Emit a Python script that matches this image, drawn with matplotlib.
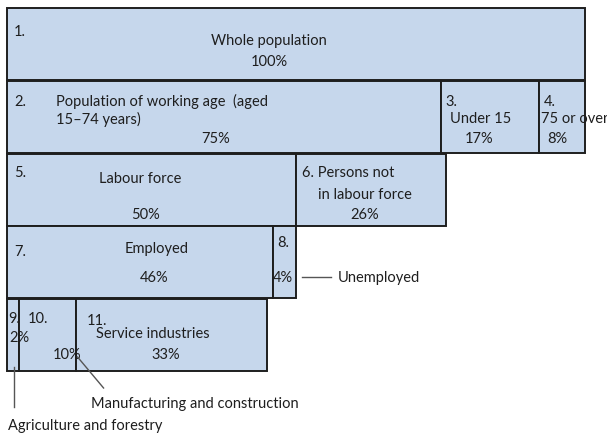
import matplotlib
matplotlib.use('Agg')
import matplotlib.pyplot as plt
from matplotlib.patches import Rectangle
import matplotlib.transforms as mtransforms

plt.rcParams['font.family'] = ['Lato', 'DejaVu Sans']

# ---- data ----
numbers = ['1.', '2.', '3.', '4.', '5.', '6.', '7.', '8.', '9.', '10.', '11.']
names = ['Whole population', 'Population of working age  (aged\n15–74 years)', 'Under 15',
         '75 or over', 'Labour force', 'Persons not', 'Employed',
         '', '', '', 'Service industries']
shares = [100, 75, 17, 8, 50, 26, 46, 4, 2, 10, 33]
levels = [0, 1, 1, 1, 2, 2, 3, 3, 4, 4, 4]
callouts = ['Unemployed', 'Agriculture and forestry', 'Manufacturing and construction']

FILL = '#c6d7ec'
EDGE = '#1e1e1e'
TXT = '#1e1e1e'

W, H = 607, 433
fig = plt.figure(figsize=(W / 100, H / 100), dpi=100)
ax = fig.add_axes([0, 0, 1, 1])
PX_PER_PCT = 5.78
ROW = 72.75
LEFT, TOP = 7, 8
ax.set_xlim(-LEFT / PX_PER_PCT, (W - LEFT) / PX_PER_PCT)
ax.set_ylim((H - TOP) / ROW, -TOP / ROW)
ax.axis('off')

# left edges stacked cumulatively within each level
lefts = []
running = {}
for s, lv in zip(shares, levels):
    x0 = running.get(lv, 0)
    lefts.append(x0)
    running[lv] = x0 + s

for x0, s, lv in zip(lefts, shares, levels):
    ax.add_patch(Rectangle((x0, lv), s, 72 / ROW, facecolor=FILL, edgecolor=EDGE, lw=1.4))


def off(dx, dy):
    return ax.transData + mtransforms.ScaledTranslation(dx / 100, -dy / 100, fig.dpi_scale_trans)


FS = 10.5
DY = 1.2


def put(i, dx, dy, text, ha='left', fs=FS):
    ax.text(lefts[i], levels[i], text, transform=off(dx, dy + DY), ha=ha, va='center',
            fontsize=fs, color=TXT, linespacing=1.2)


def pct(i):
    return f'{shares[i]}%'


def leader(i, dx0, dy0, dx1, dy1):
    x, y = lefts[i], levels[i]
    p0 = off(dx0, dy0).transform((x, y))
    p1 = off(dx1, dy1).transform((x, y))
    fig.add_artist(plt.Line2D([p0[0] / W, p1[0] / W], [p0[1] / H, p1[1] / H],
                              transform=fig.transFigure, color='#555555', lw=1))

# box 1
put(0, 7, 23, numbers[0])
put(0, 262, 32, names[0], ha='center')
put(0, 262, 53, pct(0), ha='center')
# box 2
put(1, 7, 20, numbers[1])
put(1, 49, 28.5, names[1])
put(1, 209, 57, pct(1), ha='center')
# box 3
put(2, 5, 20, numbers[2])
put(2, 10, 37, names[2])
put(2, 39, 57, pct(2), ha='center')
# box 4
put(3, 5, 20, numbers[3])
put(3, 2, 37, names[3])
put(3, 8, 57, pct(3))
# box 5
put(4, 7, 18.5, numbers[4])
put(4, 133, 24, names[4], ha='center')
put(4, 138, 60, pct(4), ha='center')
# box 6
put(5, 6, 18.5, numbers[5] + ' ' + names[5])
put(5, 22, 40, 'in labour force')
put(5, 69, 60, pct(5), ha='center')
# box 7
put(6, 7, 25, numbers[6])
put(6, 150, 22, names[6], ha='center')
put(6, 147, 51, pct(6), ha='center')
# box 8
put(7, 4, 16, numbers[7])
put(7, 0, 51, pct(7))
leader(7, 29, 51, 58, 51)
put(7, 65, 51, callouts[0])
# box 9
put(8, 1, 19, numbers[8])
put(8, 2, 38, pct(8))
leader(8, 7, 68, 7, 108)
put(8, 1, 126, callouts[1])
# box 10
put(9, 9, 19, numbers[9])
put(9, 49, 55, pct(9), ha='center')
leader(9, 59, 58, 85, 89)
put(9, 72, 104, callouts[2])
# box 11
put(10, 10, 21, numbers[10])
put(10, 76, 34, names[10], ha='center')
put(10, 89, 55, pct(10), ha='center')

fig.savefig('out.png', dpi=100)
